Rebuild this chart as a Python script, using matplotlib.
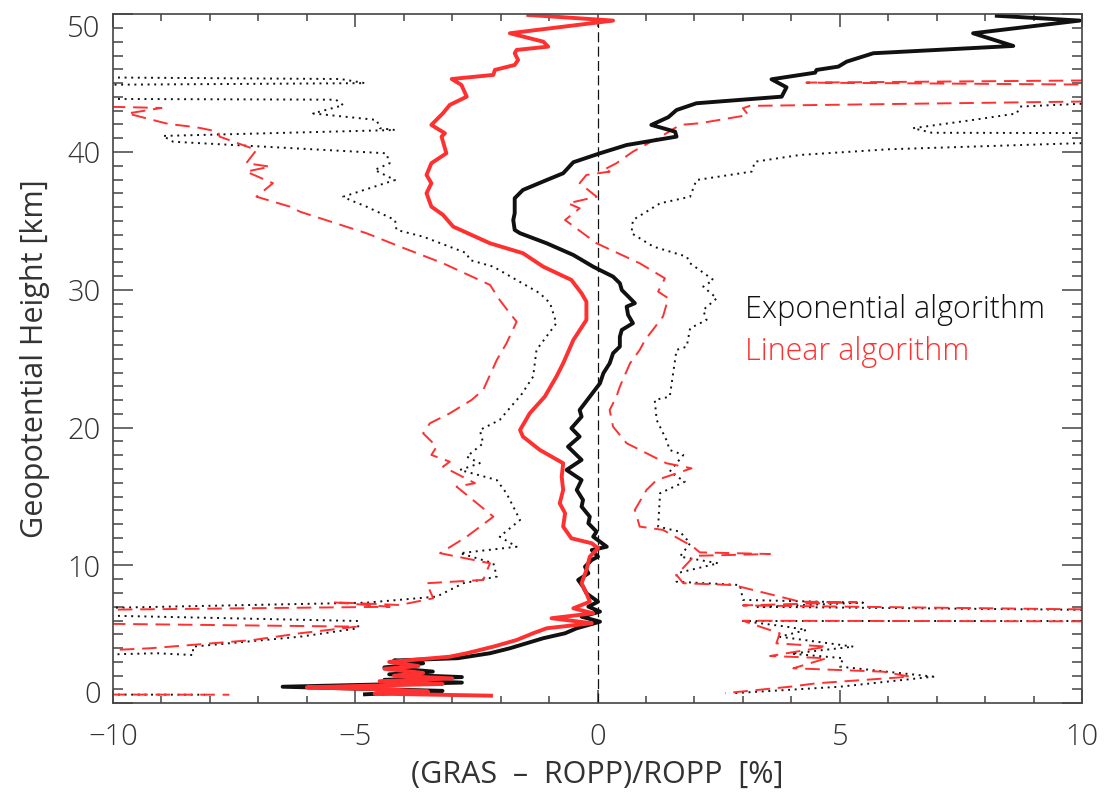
import matplotlib
matplotlib.use("Agg")
import matplotlib.pyplot as plt
from matplotlib.ticker import MultipleLocator

plt.rcParams["font.family"] = ["Open Sans", "DejaVu Sans"]
plt.rcParams["font.weight"] = "light"

# -----------------------
# Data, height in km, value in %
# -----------------------
exp_mean_h = [49.89, 49.54, 48.62, 47.70, 47.17, 46.56, 46.20, 45.96, 45.76, 45.28,
              44.70, 44.02, 43.54, 43.05, 42.53, 41.97, 41.48, 41.12, 40.51, 39.91,
              39.26, 38.46, 37.97, 37.25, 36.65, 35.56, 35.07, 34.35, 34.11, 33.38,
              32.53, 31.68, 30.96, 30.48, 29.99, 29.39, 29.03, 28.78, 28.18, 27.58,
              27.09, 26.60, 25.88, 25.40, 24.67, 23.95, 23.22, 22.25, 21.28, 20.80,
              19.96, 19.35, 18.62, 17.66, 16.93, 16.20, 15.48, 14.75, 14.27, 13.54,
              13.06, 12.45, 12.09, 11.36, 11.12, 10.64, 10.40, 9.91, 9.43, 8.95,
              8.46, 7.98, 7.37, 7.01, 6.65, 6.28, 5.92, 5.44, 5.08, 4.72,
              4.35, 3.99, 3.63, 3.27, 3.10, 2.90, 2.60, 2.30, 2.10, 1.90,
              1.70, 1.50, 1.20, 1.00, 0.90, 0.65]
exp_mean = [8.24, 9.95, 7.75, 8.58, 5.69, 5.14, 4.97, 4.52, 4.49, 3.59,
            3.90, 3.80, 2.04, 1.63, 1.46, 1.11, 1.60, 1.63, 0.60, 0.05,
            -0.50, -0.71, -1.05, -1.54, -1.71, -1.71, -1.74, -1.71, -1.60, -1.05,
            -0.50, -0.09, 0.32, 0.46, 0.50, 0.67, 0.77, 0.60, 0.63, 0.73,
            0.50, 0.46, 0.46, 0.32, 0.25, 0.12, 0.05, -0.16, -0.37, -0.33,
            -0.54, -0.37, -0.61, -0.33, -0.64, -0.33, -0.43, -0.30, -0.33, -0.16,
            -0.19, -0.02, -0.09, 0.19, -0.12, 0.01, -0.12, -0.26, -0.19, -0.40,
            -0.30, -0.23, 0.01, -0.19, 0.05, -0.33, 0.05, -0.43, -0.67, -1.12,
            -1.47, -1.81, -2.22, -2.88, -4.20, -3.60, -4.40, -3.40, -4.30, -2.80,
            -4.40, -2.80, -6.50, -4.30, -3.20, -4.80]

lin_mean_h = [49.95, 49.54, 48.62, 48.01, 47.65, 47.41, 47.17, 46.68, 46.32, 45.96,
              45.60, 45.30, 44.87, 44.02, 43.42, 42.82, 41.97, 41.36, 41.12, 39.91,
              39.19, 38.34, 37.74, 37.01, 36.04, 35.44, 34.59, 33.38, 32.66, 31.68,
              30.72, 29.75, 29.14, 27.82, 26.36, 24.67, 23.70, 22.25, 21.04, 19.83,
              19.35, 18.38, 17.42, 16.44, 15.48, 14.51, 13.79, 12.82, 11.97, 11.61,
              11.25, 10.64, 9.67, 8.71, 7.98, 7.37, 6.89, 6.53, 6.17, 5.81,
              5.44, 5.08, 4.59, 4.11, 3.63, 3.38, 3.00, 2.70, 2.50, 2.20,
              2.00, 1.80, 1.60, 1.40, 1.25, 1.15, 1.00, 0.85, 0.70, 0.55]
lin_mean = [-1.43, 0.32, -1.81, -1.12, -1.02, -1.67, -1.71, -1.64, -1.71, -2.12,
            -2.15, -3.01, -2.81, -2.70, -3.05, -3.19, -3.43, -3.15, -3.22, -3.12,
            -3.43, -3.53, -3.43, -3.53, -3.43, -3.19, -2.98, -2.22, -1.54, -1.12,
            -0.54, -0.33, -0.23, -0.23, -0.50, -0.71, -0.85, -1.09, -1.40, -1.60,
            -1.54, -1.19, -0.71, -0.74, -0.71, -0.78, -0.67, -0.71, -0.54, -0.12,
            0.01, -0.16, -0.23, -0.33, -0.23, -0.16, -0.50, -0.09, -0.95, -0.12,
            -1.05, -1.33, -1.67, -2.15, -2.70, -3.05, -4.30, -3.70, -4.40, -3.60,
            -4.20, -3.00, -4.50, -3.20, -5.00, -6.00, -4.30, -3.50, -4.60, -2.20]

# mean - std and mean + std, exponential algorithm
exp_lo_h = [45.50, 45.30, 45.00, 44.80, 43.90, 43.80, 43.40, 42.80, 42.33, 41.73,
            41.60, 41.17, 40.75, 39.91, 39.19, 38.70, 37.97, 36.76, 36.52, 36.04,
            35.07, 34.35, 33.86, 32.66, 32.17, 31.68, 29.75, 29.03, 27.58, 25.64,
            23.70, 22.25, 22.01, 20.56, 19.83, 18.87, 17.90, 17.42, 16.93, 16.20,
            15.24, 13.30, 12.09, 11.36, 10.89, 10.16, 9.19, 8.71, 7.74, 7.30,
            6.65, 5.97, 5.44, 4.83, 4.11, 3.50, 3.63, 3.20, 0.65, 0.62]
exp_lo = [-14.0, -5.30, -4.80, -14.0, -14.0, -5.40, -5.25, -5.87, -4.56, -4.49,
          -4.18, -8.97, -8.76, -4.36, -4.29, -4.60, -4.18, -5.25, -5.11, -4.77,
          -4.18, -4.15, -3.60, -2.70, -2.64, -2.15, -1.19, -0.98, -0.85, -1.26,
          -1.33, -1.60, -1.67, -2.02, -2.43, -2.36, -2.70, -2.43, -2.84, -2.08,
          -1.88, -1.60, -2.02, -1.67, -2.84, -2.15, -2.08, -2.77, -3.32, -4.77,
          -14.0, -4.94, -4.94, -6.14, -8.35, -8.35, -9.10, -14.0, -14.0, -8.10]

exp_hi_h = [43.60, 43.50, 43.30, 42.80, 42.33, 41.73, 41.40, 41.35, 40.70, 40.64,
            40.20, 39.79, 39.30, 38.58, 37.97, 36.76, 36.28, 35.07, 34.11, 33.14,
            32.41, 31.93, 30.72, 30.23, 29.39, 28.54, 27.82, 27.21, 25.88, 25.64,
            23.95, 22.25, 22.01, 20.56, 19.11, 18.38, 18.02, 16.81, 16.08, 15.24,
            12.82, 12.45, 11.61, 10.64, 10.16, 9.43, 8.82, 8.58, 7.50, 7.30,
            7.00, 6.65, 5.97, 5.97, 5.56, 5.32, 4.83, 4.11, 3.60, 3.27,
            2.66, 1.93, 1.20, 0.73]
exp_hi = [14.0, 9.96, 8.72, 8.65, 7.75, 6.51, 6.90, 14.0, 14.0, 9.90,
          6.00, 4.18, 3.25, 3.18, 2.04, 1.91, 1.29, 0.73, 0.70, 1.15,
          1.84, 1.91, 2.39, 2.18, 2.46, 2.18, 2.25, 1.91, 1.84, 1.63,
          1.56, 1.49, 1.18, 1.22, 1.42, 1.49, 1.77, 1.49, 1.80, 1.29,
          1.25, 1.70, 1.91, 1.70, 2.49, 1.63, 1.63, 2.94, 3.00, 5.48,
          3.30, 14.0, 14.0, 3.00, 3.90, 4.31, 3.76, 5.28, 4.00, 5.07,
          5.00, 6.93, 5.00, 2.80]

# mean - std and mean + std, linear algorithm
lin_lo_h = [43.60, 43.20, 42.80, 42.04, 41.80, 41.48, 41.12, 40.15, 39.19, 38.94,
            38.58, 37.74, 36.76, 36.04, 35.67, 34.11, 33.14, 31.93, 30.36, 29.27,
            28.30, 27.69, 26.12, 24.91, 22.74, 22.01, 21.04, 20.32, 19.59, 18.62,
            18.02, 17.53, 17.17, 15.97, 15.72, 13.54, 12.09, 10.89, 10.16, 8.95,
            8.71, 7.62, 7.13, 7.33, 7.00, 6.65, 5.92, 5.56, 5.08, 4.59,
            3.99, 3.20, 0.65, 0.62]
lin_lo = [-14.0, -9.00, -9.70, -8.86, -8.28, -7.83, -7.80, -7.04, -7.25, -6.76,
          -7.25, -6.70, -7.04, -6.35, -6.14, -4.77, -4.08, -3.19, -2.22, -2.02,
          -1.81, -1.67, -1.88, -2.08, -2.36, -2.60, -3.05, -3.46, -3.60, -3.32,
          -3.43, -3.05, -3.19, -2.53, -2.91, -2.15, -2.70, -3.25, -2.22, -2.36,
          -3.53, -3.39, -4.08, -5.46, -4.29, -14.0, -14.0, -4.97, -6.14, -7.11,
          -9.24, -14.0, -14.0, -7.60]

lin_hi_h = [45.30, 45.04, 44.80, 43.85, 43.35, 43.18, 42.69, 42.09, 41.97, 41.36,
            40.03, 39.19, 38.70, 38.58, 38.34, 37.74, 36.76, 36.28, 35.92, 35.07,
            33.38, 31.93, 30.84, 29.87, 29.39, 28.06, 26.36, 25.64, 24.67, 22.98,
            22.25, 21.28, 20.07, 18.87, 18.02, 17.42, 17.05, 16.20, 15.48, 14.03,
            12.82, 12.58, 11.36, 10.95, 10.83, 10.70, 9.31, 8.71, 8.58, 7.37,
            7.33, 7.10, 6.65, 5.92, 5.99, 5.56, 5.08, 4.35, 4.11, 3.43,
            3.27, 2.54, 2.29, 1.93, 1.45, 1.20, 0.73]
lin_hi = [14.0, 4.31, 14.0, 14.0, 3.14, 3.00, 3.11, 2.11, 1.70, 1.42,
          0.73, 0.39, 0.12, 0.25, -0.23, -0.37, -0.02, -0.61, -0.37, -0.67,
          -0.02, 0.87, 1.39, 1.25, 1.46, 1.35, 0.98, 0.87, 0.67, 0.46,
          0.39, 0.25, 0.32, 0.60, 1.08, 1.42, 1.94, 1.22, 1.01, 0.77,
          0.87, 1.35, 1.97, 2.11, 3.56, 2.00, 1.63, 1.77, 2.80, 4.18,
          5.35, 3.00, 14.0, 14.0, 3.00, 3.35, 3.76, 3.69, 4.73, 3.56,
          4.73, 4.04, 5.90, 6.45, 4.52, 3.97, 2.63]

black = "#111111"
red = "#ff3030"
gray = "#444444"
txt = "#333333"

fig = plt.figure(figsize=(11.07, 7.96), dpi=100)
ax = fig.add_axes([0.1021, 0.1165, 0.8754, 0.8656])

# zero line
ax.axvline(0, color=black, lw=0.9, dashes=(8, 3.5))

# spread curves
ax.plot(exp_lo, exp_lo_h, color=black, lw=1.4, dashes=(1, 2.4))
ax.plot(exp_hi, exp_hi_h, color=black, lw=1.4, dashes=(1, 2.4))
ax.plot(lin_lo, lin_lo_h, color=red, lw=1.4, dashes=(7.5, 4))
ax.plot(lin_hi, lin_hi_h, color=red, lw=1.4, dashes=(7.5, 4))

# mean curves
ax.plot(exp_mean, exp_mean_h, color=black, lw=2.8)
ax.plot(lin_mean, lin_mean_h, color=red, lw=2.8)

ax.set_xlim(-10, 10)
ax.set_ylim(0, 50)
ax.set_xticks([-10, -5, 0, 5, 10])
ax.set_yticks([0, 10, 20, 30, 40, 50])
ax.xaxis.set_minor_locator(MultipleLocator(1))
ax.yaxis.set_minor_locator(MultipleLocator(1))

ax.tick_params(axis="both", which="both", direction="in", color=gray, width=1.1,
               top=True, right=True, labelsize=21, labelcolor=txt)
ax.tick_params(axis="x", which="major", length=9.5, pad=14)
ax.tick_params(axis="x", which="minor", length=5)
ax.tick_params(axis="y", which="major", length=14.5, pad=9)
ax.tick_params(axis="y", which="minor", length=7)
for s in ax.spines.values():
    s.set_color(gray)
    s.set_linewidth(1.2)

# IDL keeps the end labels inside the axis box
yt = ax.yaxis.get_major_ticks()
yt[0].label1.set_verticalalignment("baseline")
yt[-1].label1.set_verticalalignment("top")

ax.set_xlabel("(GRAS  \u2013  ROPP)/ROPP  [%]", fontsize=22, color=txt)
ax.set_ylabel("Geopotential Height [km]", fontsize=22, color=txt)
ax.xaxis.label.set_va("center")
ax.yaxis.label.set_va("center")
ax.xaxis.set_label_coords(0.5, -0.104)
ax.yaxis.set_label_coords(-0.0805, 0.5)

ax.text(0.652, 0.5588, "Exponential algorithm", transform=ax.transAxes,
        fontsize=22, color=black, va="baseline")
ax.text(0.652, 0.4983, "Linear algorithm", transform=ax.transAxes,
        fontsize=22, color=red, va="baseline")

fig.savefig("out.png", dpi=100)
